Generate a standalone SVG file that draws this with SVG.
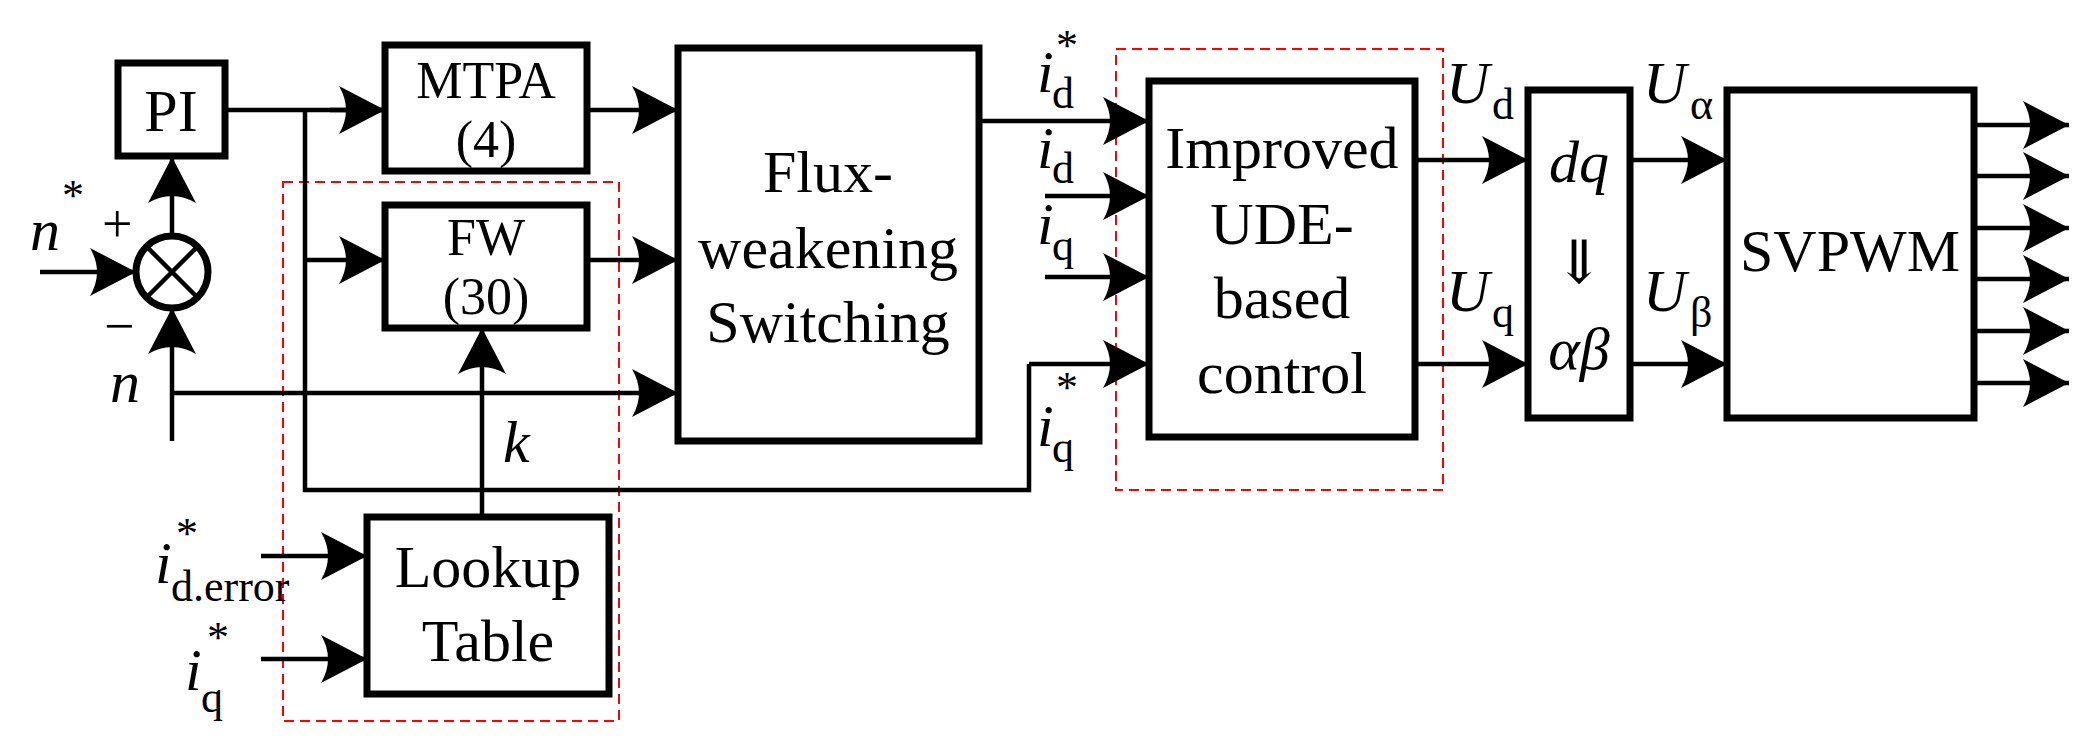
<svg xmlns="http://www.w3.org/2000/svg" width="2097" height="751" viewBox="0 0 2097 751" font-family="'Liberation Serif','Times New Roman','DejaVu Serif',serif">
<style>
.b{fill:#fff;stroke:#000;stroke-width:7}
.l{fill:none;stroke:#000;stroke-width:4.5}
.a{fill:none;stroke:#000;stroke-width:4.5;marker-end:url(#ar)}
.d{fill:none;stroke:#f00;stroke-width:2;stroke-dasharray:10 6}
text{font-family:'Liberation Serif','Times New Roman','DejaVu Serif',serif;fill:#000}
.t{font-size:60px;text-anchor:middle}
.m{font-size:52px}
.i{font-style:italic;font-size:60px}
.s{font-size:44px}
.p{font-size:54px}
</style>
<defs>
<marker id="ar" markerUnits="userSpaceOnUse" markerWidth="60" markerHeight="60" refX="0" refY="0" viewBox="-50 -30 55 60" orient="auto" overflow="visible">
<path d="M0,0 L-46,-24 Q-32,0 -46,24 Z" fill="#000"/>
</marker>
</defs>
<g id="dash1"><rect class="d" x="283" y="182" width="336" height="539"/></g>
<g id="dash2"><rect class="d" x="1116" y="49" width="327" height="441"/></g>
<g id="connectors">
<path class="l" d="M226,110 H385"/>
<path class="a" d="M330,110 H385"/>
<path class="l" d="M305,110 V490 H1029 V364"/>
<path class="a" d="M305,260 H385"/>
<path class="a" d="M587,110 H678"/>
<path class="a" d="M587,260 H678"/>
<path class="a" d="M173,393 H678"/>
<path class="a" d="M172,441 V308"/>
<path class="a" d="M172,236 V157"/>
<path class="a" d="M40,272 H136"/>
<path class="a" d="M482,517 V328"/>
<path class="a" d="M261,556 H367"/>
<path class="a" d="M261,659 H367"/>
<path class="a" d="M979,121 H1149"/>
<path class="a" d="M1045,196 H1149"/>
<path class="a" d="M1045,277 H1149"/>
<path class="a" d="M1029,364 H1149"/>
<path class="a" d="M1415,160 H1528"/>
<path class="a" d="M1415,364 H1528"/>
<path class="a" d="M1630,160 H1727"/>
<path class="a" d="M1630,364 H1727"/>
<path class="a" d="M1974,125 H2069"/>
<path class="a" d="M1974,176 H2069"/>
<path class="a" d="M1974,228 H2069"/>
<path class="a" d="M1974,279 H2069"/>
<path class="a" d="M1974,331 H2069"/>
<path class="a" d="M1974,383 H2069"/>
</g>
<g id="sum"><circle cx="172" cy="272" r="36" class="b" stroke-width="6"/><path class="l" d="M147,247 L197,297 M197,247 L147,297" stroke-width="6"/></g>
<g id="pi"><rect class="b" x="118" y="63" width="107" height="93"/><text class="t" x="171" y="131">PI</text></g>
<g id="mtpa"><rect class="b" x="385" y="45" width="202" height="126"/><text class="t m" x="486" y="98">MTPA</text><text class="t m" x="486" y="157">(4)</text></g>
<g id="fw"><rect class="b" x="385" y="205" width="202" height="123"/><text class="t m" x="486" y="255">FW</text><text class="t m" x="486" y="314">(30)</text></g>
<g id="flux"><rect class="b" x="678" y="48" width="301" height="393"/><text class="t" x="828" y="192">Flux-</text><text class="t" x="828" y="268">weakening</text><text class="t" x="828" y="342">Switching</text></g>
<g id="lookup"><rect class="b" x="367" y="517" width="242" height="177"/><text class="t" x="488" y="587">Lookup</text><text class="t" x="488" y="661">Table</text></g>
<g id="ude"><rect class="b" x="1149" y="81" width="266" height="356"/><text class="t" x="1282" y="168">Improved</text><text class="t" x="1282" y="244">UDE-</text><text class="t" x="1282" y="318">based</text><text class="t" x="1282" y="393">control</text></g>
<g id="dq"><rect class="b" x="1528" y="90" width="102" height="328"/><text class="t" x="1579" y="182" font-style="italic">dq</text><text class="t" x="1579" y="283">⇓</text><text class="t" x="1579" y="369" font-style="italic">αβ</text></g>
<g id="svpwm"><rect class="b" x="1727" y="90" width="247" height="328"/><text class="t" x="1850" y="271">SVPWM</text></g>
<g id="labels">
<text class="i" x="30" y="250">n</text><text class="s" x="62" y="210">*</text>
<text class="p" x="102" y="242">+</text>
<text class="p" x="104" y="344">−</text>
<text class="i" x="110" y="402">n</text>
<text class="i" x="503" y="462">k</text>
<text class="i" x="155" y="583">i</text><text class="s" x="171" y="601">d.error</text><text class="s" x="176" y="548">*</text>
<text class="i" x="185" y="690">i</text><text class="s" x="201" y="712">q</text><text class="s" x="207" y="652">*</text>
<text class="i" x="1037" y="92">i</text><text class="s" x="1052" y="108">d</text><text class="s" x="1056" y="60">*</text>
<text class="i" x="1037" y="168">i</text><text class="s" x="1052" y="183">d</text>
<text class="i" x="1037" y="244">i</text><text class="s" x="1052" y="260">q</text>
<text class="i" x="1037" y="446">i</text><text class="s" x="1052" y="462">q</text><text class="s" x="1056" y="402">*</text>
<text class="i" x="1446" y="103">U</text><text class="s" x="1492" y="119">d</text>
<text class="i" x="1446" y="311">U</text><text class="s" x="1492" y="327">q</text>
<text class="i" x="1643" y="103">U</text><text class="s" x="1690" y="119">α</text>
<text class="i" x="1643" y="311">U</text><text class="s" x="1690" y="327">β</text>
</g>
</svg>
